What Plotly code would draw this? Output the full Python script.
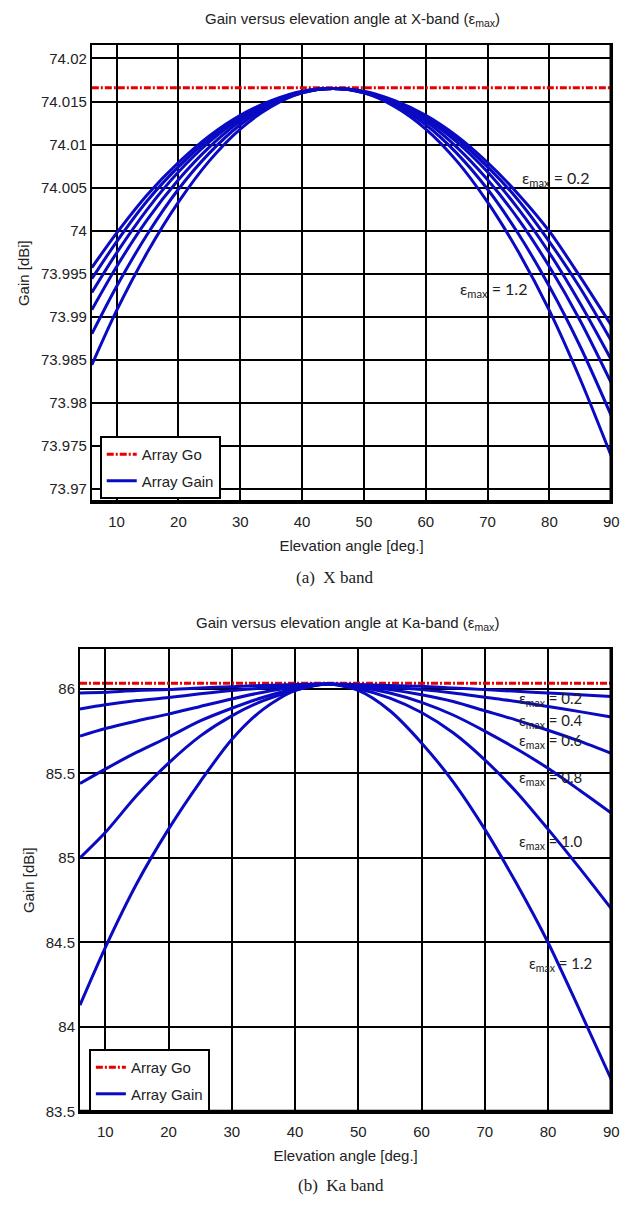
import plotly.graph_objects as go

# Elevation angles (deg) at which the gain was evaluated
ANGLE = [6, 10, 15, 20, 25, 30, 35, 40, 45, 50, 55, 60, 65, 70, 75, 80, 85, 90]

EPS_MAX = ["0.2", "0.4", "0.6", "0.8", "1.0", "1.2"]

# X-band array gain [dBi], one list per epsilon_max
X_GAIN_02 = [73.9957, 73.9997, 74.0042, 74.0079, 74.0110, 74.0134, 74.0151, 74.0162, 74.0165,
             74.0162, 74.0151, 74.0134, 74.0110, 74.0079, 74.0042, 73.9999, 73.9946, 73.9890]
X_GAIN_04 = [73.9944, 73.9987, 74.0035, 74.0074, 74.0107, 74.0132, 74.0150, 74.0161, 74.0165,
             74.0161, 74.0150, 74.0132, 74.0107, 74.0074, 74.0035, 73.9987, 73.9933, 73.9872]
X_GAIN_06 = [73.9928, 73.9974, 74.0025, 74.0068, 74.0103, 74.0130, 74.0149, 74.0161, 74.0165,
             74.0161, 74.0149, 74.0130, 74.0103, 74.0068, 74.0025, 73.9974, 73.9915, 73.9850]
X_GAIN_08 = [73.9908, 73.9958, 74.0013, 74.0059, 74.0097, 74.0127, 74.0148, 74.0161, 74.0165,
             74.0161, 74.0148, 74.0127, 74.0097, 74.0059, 74.0013, 73.9958, 73.9895, 73.9823]
X_GAIN_10 = [73.9880, 73.9935, 73.9996, 74.0048, 74.0090, 74.0123, 74.0146, 74.0160, 74.0165,
             74.0160, 74.0146, 74.0123, 74.0090, 74.0048, 73.9996, 73.9935, 73.9865, 73.9785]
X_GAIN_12 = [73.9844, 73.9907, 73.9975, 74.0033, 74.0081, 74.0118, 74.0144, 74.0160, 74.0165,
             74.0160, 74.0144, 74.0118, 74.0081, 74.0033, 73.9975, 73.9907, 73.9827, 73.9738]
X_GO = 74.0166

# Ka-band array gain [dBi], one list per epsilon_max
KA_GAIN_02 = [85.975, 85.980, 85.990, 85.995, 86.005, 86.012, 86.020, 86.025, 86.028,
              86.025, 86.020, 86.015, 86.005, 85.995, 85.985, 85.975, 85.965, 85.955]
KA_GAIN_04 = [85.880, 85.905, 85.930, 85.948, 85.970, 85.990, 86.005, 86.020, 86.028,
              86.020, 86.010, 85.995, 85.975, 85.950, 85.925, 85.895, 85.865, 85.833]
KA_GAIN_06 = [85.720, 85.765, 85.810, 85.850, 85.895, 85.940, 85.980, 86.010, 86.028,
              86.015, 85.995, 85.965, 85.925, 85.870, 85.815, 85.755, 85.690, 85.618]
KA_GAIN_08 = [85.440, 85.525, 85.625, 85.715, 85.810, 85.885, 85.950, 86.000, 86.028,
              86.010, 85.975, 85.920, 85.845, 85.750, 85.645, 85.530, 85.400, 85.265]
KA_GAIN_10 = [85.000, 85.150, 85.370, 85.560, 85.720, 85.840, 85.930, 85.990, 86.028,
              86.000, 85.945, 85.860, 85.740, 85.580, 85.390, 85.170, 84.940, 84.700]
KA_GAIN_12 = [84.130, 84.470, 84.850, 85.170, 85.450, 85.700, 85.880, 85.990, 86.028,
              85.990, 85.870, 85.680, 85.450, 85.170, 84.850, 84.500, 84.100, 83.690]
KA_GO = 86.033

X_TICKS = [10, 20, 30, 40, 50, 60, 70, 80, 90]
X_BAND_YTICKS = [73.97, 73.975, 73.98, 73.985, 73.99, 73.995, 74.0, 74.005, 74.01, 74.015, 74.02]
X_BAND_YLABELS = ["73.97", "73.975", "73.98", "73.985", "73.99", "73.995", "74", "74.005",
                  "74.01", "74.015", "74.02"]
KA_BAND_YTICKS = [83.5, 84.0, 84.5, 85.0, 85.5, 86.0]
KA_BAND_YLABELS = ["83.5", "84", "84.5", "85", "85.5", "86"]

X_CURVES = [X_GAIN_02, X_GAIN_04, X_GAIN_06, X_GAIN_08, X_GAIN_10, X_GAIN_12]
KA_CURVES = [KA_GAIN_02, KA_GAIN_04, KA_GAIN_06, KA_GAIN_08, KA_GAIN_10, KA_GAIN_12]

BLUE = "#0a0ac2"
RED = "#e60000"
SANS = "Liberation Sans, Arial, sans-serif"
LABEL_FONT = "Lato, Carlito, sans-serif"
W, H = 640, 1213

fig = go.Figure()


def add_panel(curves, go_level, xa, ya, legend_id):
    fig.add_trace(go.Scatter(
        x=[ANGLE[0], ANGLE[-1]], y=[go_level, go_level], mode="lines",
        name="Array Go", line=dict(color=RED, width=3, dash="7px,2px,2px,2px"),
        xaxis=xa, yaxis=ya, legend=legend_id, legendgroup="go" + legend_id,
    ))
    for i, vals in enumerate(curves):
        fig.add_trace(go.Scatter(
            x=ANGLE, y=vals, mode="lines", name="Array Gain",
            line=dict(color=BLUE, width=3, shape="spline", smoothing=0.8),
            xaxis=xa, yaxis=ya, legend=legend_id, legendgroup="gain" + legend_id,
            showlegend=(i == 0),
        ))


add_panel(X_CURVES, X_GO, "x", "y", "legend")
add_panel(KA_CURVES, KA_GO, "x2", "y2", "legend2")

axis_common = dict(
    showgrid=True, gridcolor="black", gridwidth=2,
    showline=True, linecolor="black", linewidth=2, mirror=True,
    ticks="", zeroline=False,
    tickfont=dict(family=SANS, size=15, color="#222"),
)
title_font = dict(family=SANS, size=15, color="#222")

fig.update_layout(
    width=W, height=H,
    margin=dict(l=0, r=0, t=0, b=0),
    paper_bgcolor="white", plot_bgcolor="white",
    xaxis=dict(domain=[93 / W, 619 / W], range=[6, 90], tickvals=X_TICKS, anchor="y",
               ticklabelstandoff=5,
               title=dict(text="Elevation angle [deg.]", font=title_font, standoff=12),
               **axis_common),
    yaxis=dict(domain=[1 - 505 / H, 1 - 45 / H], range=[73.9685, 74.0216], anchor="x",
               tickvals=X_BAND_YTICKS, ticktext=X_BAND_YLABELS,
               title=dict(text="Gain [dBi]", font=title_font, standoff=8),
               **axis_common),
    xaxis2=dict(domain=[81 / W, 619 / W], range=[6, 90], tickvals=X_TICKS, anchor="y2",
                ticklabelstandoff=5,
                title=dict(text="Elevation angle [deg.]", font=title_font, standoff=12),
                **axis_common),
    yaxis2=dict(domain=[1 - 1119 / H, 1 - 653 / H], range=[83.5, 86.237], anchor="x2",
                tickvals=KA_BAND_YTICKS, ticktext=KA_BAND_YLABELS,
                title=dict(text="Gain [dBi]", font=title_font, standoff=8),
                **axis_common),
    legend=dict(x=101 / W, y=1 - 439 / H, xanchor="left", yanchor="top",
                bgcolor="white", bordercolor="black", borderwidth=2,
                font=dict(family=SANS, size=15, color="#222"), tracegroupgap=4),
    legend2=dict(x=90 / W, y=1 - 1056 / H, xanchor="left", yanchor="top",
                 bgcolor="white", bordercolor="black", borderwidth=2,
                 font=dict(family=SANS, size=15, color="#222"), tracegroupgap=4),
    showlegend=True,
)

# heavier right and bottom frame edges
for xa, ya in (("x", "y"), ("x2", "y2")):
    fig.add_shape(type="line", xref=xa + " domain", yref=ya + " domain",
                  x0=1, x1=1, y0=0, y1=1, line=dict(color="black", width=3.5))
    fig.add_shape(type="line", xref=xa + " domain", yref=ya + " domain",
                  x0=0, x1=1, y0=0, y1=0, line=dict(color="black", width=3.5))

# panel titles and captions
texts = [
    ("Gain versus elevation angle at X-band (ε<sub>max</sub>)", 357, 20, SANS, 15),
    ("(a)  X band", 339, 581, "Liberation Serif, Times New Roman, serif", 17),
    ("Gain versus elevation angle at Ka-band (ε<sub>max</sub>)", 352, 628, SANS, 15),
    ("(b)  Ka band", 345, 1193, "Liberation Serif, Times New Roman, serif", 17),
]
for txt, px, py, fam, sz in texts:
    fig.add_annotation(text=txt, xref="paper", yref="paper", x=px / W, y=1 - py / H,
                       xanchor="center", yanchor="middle", showarrow=False,
                       font=dict(family=fam, size=sz, color="#222"))

# epsilon_max curve labels
x_labels = [("0.2", 75.3, 74.0060), ("1.2", 65.2, 73.9932)]
for eps, lx, ly in x_labels:
    fig.add_annotation(text="ε<sub>max</sub> = " + eps, xref="x", yref="y", x=lx, y=ly,
                       xanchor="left", yanchor="middle", showarrow=False,
                       font=dict(family=LABEL_FONT, size=16, color="#222"))
ka_labels = [("0.2", 75.1, 85.940), ("0.4", 75.1, 85.812), ("0.6", 75.1, 85.692),
             ("0.8", 75.1, 85.474), ("1.0", 75.1, 85.092), ("1.2", 76.6, 84.375)]
for eps, lx, ly in ka_labels:
    fig.add_annotation(text="ε<sub>max</sub> = " + eps, xref="x2", yref="y2", x=lx, y=ly,
                       xanchor="left", yanchor="middle", showarrow=False,
                       font=dict(family=LABEL_FONT, size=15, color="#222"))

fig.write_html("out.html")
